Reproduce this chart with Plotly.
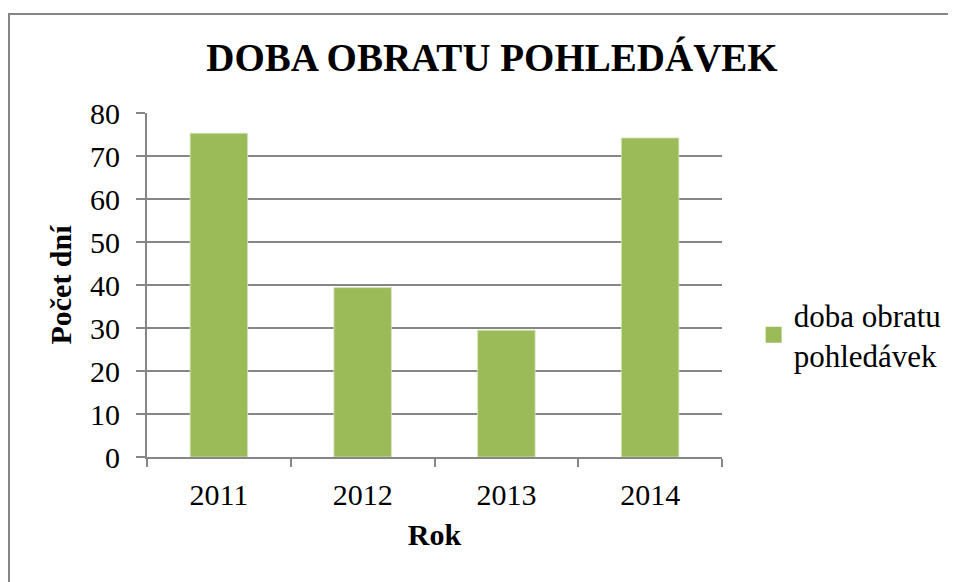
import plotly.graph_objects as go

roky = ['2011', '2012', '2013', '2014']
doba_obratu = [75.3, 39.4, 29.5, 74.2]
y_ticks = [0, 10, 20, 30, 40, 50, 60, 70, 80]

SERIF = 'Liberation Serif, Times New Roman, serif'
GRAY = '#868686'
GREEN = '#9BBB59'

fig = go.Figure()

fig.add_trace(go.Bar(
    x=roky, y=doba_obratu,
    name='doba obratu<br>pohledávek',
    showlegend=False,
    marker=dict(color=GREEN, line=dict(width=0.8, color='#D7E4BD'))
))

# položka legendy s větším čtverečkem
fig.add_trace(go.Scatter(
    x=[None], y=[None], mode='markers',
    name='doba obratu<br>pohledávek',
    marker=dict(symbol='square', size=17, color=GREEN)
))

# rám kolem celého grafu
fig.add_shape(type='rect', xref='paper', yref='paper',
              x0=-0.24, x1=1.45, y0=-0.5, y1=1.288,
              line=dict(color=GRAY, width=2))

fig.update_layout(
    title=dict(text='<b>DOBA OBRATU POHLEDÁVEK</b>', x=484 / 956, xanchor='center',
               xref='container', y=1 - 49 / 582, yanchor='middle',
               font=dict(family=SERIF, size=39, color='black')),
    width=956, height=582,
    margin=dict(l=139, r=242, t=105, b=133, autoexpand=False),
    paper_bgcolor='white', plot_bgcolor='white',
    bargap=0.6,
    showlegend=True,
    legend=dict(x=1.055, xanchor='left', y=0.355, yanchor='middle',
                font=dict(family=SERIF, size=31, color='black'),
                itemwidth=30, bgcolor='rgba(0,0,0,0)'),
    xaxis=dict(
        title=dict(text='<b>Rok</b>', font=dict(family=SERIF, size=30, color='black'), standoff=14),
        tickfont=dict(family=SERIF, size=30, color='black'),
        automargin=False,
        showline=True, linecolor=GRAY, linewidth=2,
        ticks='outside', tickson='boundaries', ticklen=8, tickcolor=GRAY, tickwidth=2,
        ticklabelstandoff=10,
        showgrid=False
    ),
    yaxis=dict(
        title=dict(text='<b>Počet dní</b>', font=dict(family=SERIF, size=30, color='black'), standoff=10),
        tickfont=dict(family=SERIF, size=30, color='black'),
        automargin=False,
        range=[0, 80], tickvals=y_ticks,
        showline=True, linecolor=GRAY, linewidth=2,
        ticks='outside', ticklen=9, tickcolor=GRAY, tickwidth=2,
        ticklabelstandoff=10,
        showgrid=True, gridcolor=GRAY, gridwidth=2,
        zeroline=False
    )
)

fig.write_html('out.html')
